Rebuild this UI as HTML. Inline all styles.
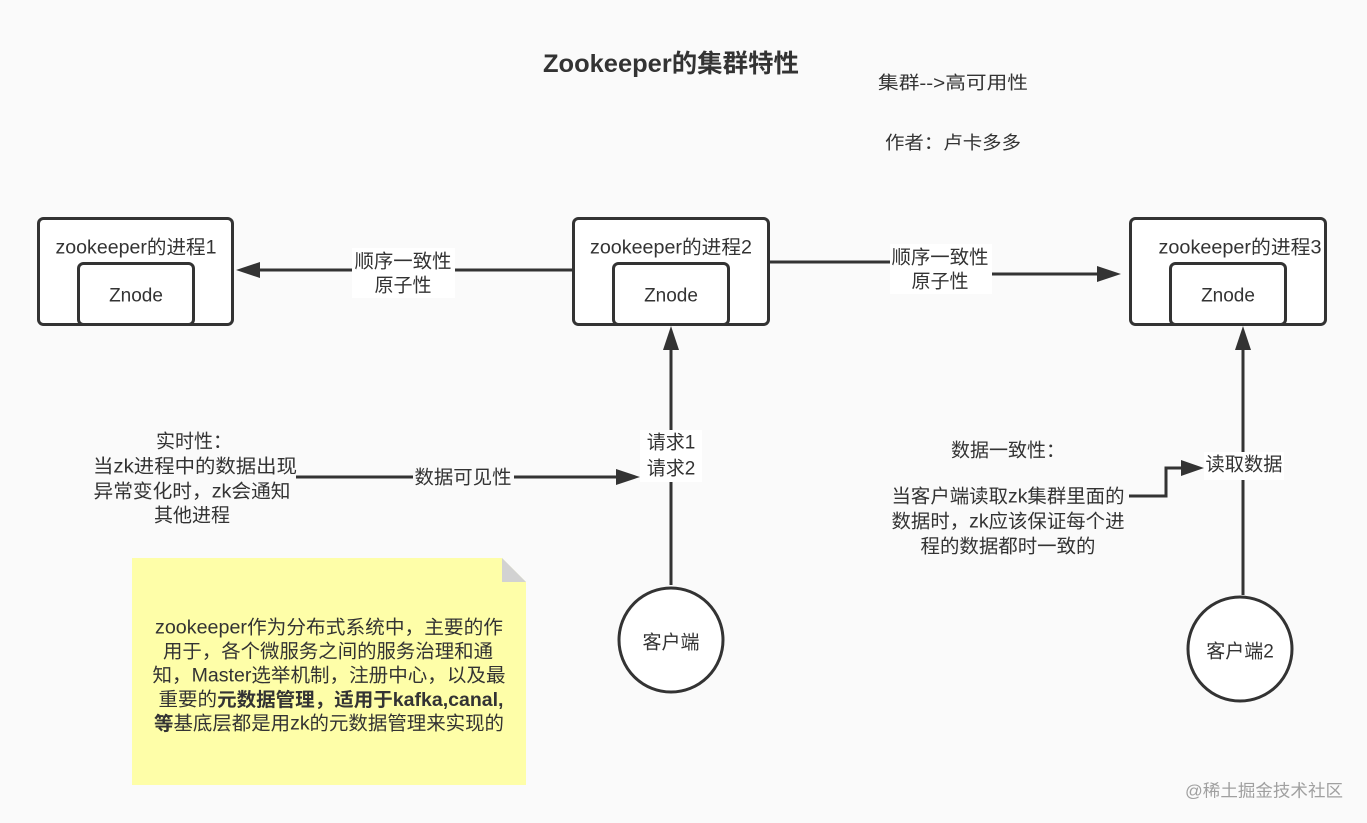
<!DOCTYPE html>
<html>
<head>
<meta charset="utf-8">
<style>
html,body{margin:0;padding:0;background:#fafafa;}
svg{display:block;}
text{font-family:"Liberation Sans","Noto Sans CJK SC",sans-serif;fill:#333;}
</style>
</head>
<body>
<svg width="1367" height="823" viewBox="0 0 1367 823" xmlns="http://www.w3.org/2000/svg">
<rect x="0" y="0" width="1367" height="823" fill="#fafafa"/>

<!-- Title -->
<text x="671" y="64" font-size="25" font-weight="bold" text-anchor="middle" dominant-baseline="central" textLength="256" lengthAdjust="spacingAndGlyphs">Zookeeper的集群特性</text>
<text x="953" y="83" font-size="18" text-anchor="middle" dominant-baseline="central" textLength="150" lengthAdjust="spacingAndGlyphs">集群--&gt;高可用性</text>
<text x="953" y="143" font-size="18" text-anchor="middle" dominant-baseline="central" textLength="136" lengthAdjust="spacingAndGlyphs">作者：卢卡多多</text>

<!-- Connectors -->
<g stroke="#333" stroke-width="3" fill="none">
  <path d="M572,270 H256"/>
  <path d="M762,262 H940 V274 H1100"/>
  <path d="M296,477 H620"/>
  <path d="M671,585 V346"/>
  <path d="M1243,595 V346"/>
  <path d="M1129,496 H1166 V468 H1185"/>
</g>
<g fill="#333">
  <polygon points="236,270 260,262 260,278"/>
  <polygon points="1121,274 1097,266 1097,282"/>
  <polygon points="640,477 616,469 616,485"/>
  <polygon points="671,326 663,350 679,350"/>
  <polygon points="1243,326 1235,350 1251,350"/>
  <polygon points="1204,468 1181,460 1181,476"/>
</g>

<!-- Boxes -->
<g stroke="#333" stroke-width="3" fill="#fff">
  <rect x="38.5" y="218.5" width="194" height="106" rx="5"/>
  <rect x="78.5" y="263.5" width="115" height="61" rx="5"/>
  <rect x="573.5" y="218.5" width="195" height="106" rx="5"/>
  <rect x="613.5" y="263.5" width="115" height="61" rx="5"/>
  <rect x="1130.5" y="218.5" width="195" height="106" rx="5"/>
  <rect x="1170.5" y="263.5" width="115" height="61" rx="5"/>
</g>
<text x="136" y="248" font-size="19" text-anchor="middle" dominant-baseline="central" textLength="161" lengthAdjust="spacingAndGlyphs">zookeeper的进程1</text>
<text x="136" y="296" font-size="19" text-anchor="middle" dominant-baseline="central">Znode</text>
<text x="671" y="248" font-size="19" text-anchor="middle" dominant-baseline="central" textLength="162" lengthAdjust="spacingAndGlyphs">zookeeper的进程2</text>
<text x="671" y="296" font-size="19" text-anchor="middle" dominant-baseline="central">Znode</text>
<text x="1240" y="248" font-size="19" text-anchor="middle" dominant-baseline="central" textLength="163" lengthAdjust="spacingAndGlyphs">zookeeper的进程3</text>
<text x="1228" y="296" font-size="19" text-anchor="middle" dominant-baseline="central">Znode</text>

<!-- Edge labels -->
<rect x="352" y="248" width="103" height="50" fill="#fff"/>
<text x="403" y="262" font-size="19" text-anchor="middle" dominant-baseline="central" textLength="97" lengthAdjust="spacingAndGlyphs">顺序一致性</text>
<text x="403" y="286" font-size="19" text-anchor="middle" dominant-baseline="central">原子性</text>

<rect x="890" y="244" width="102" height="50" fill="#fff"/>
<text x="940" y="258" font-size="19" text-anchor="middle" dominant-baseline="central" textLength="97" lengthAdjust="spacingAndGlyphs">顺序一致性</text>
<text x="940" y="282" font-size="19" text-anchor="middle" dominant-baseline="central">原子性</text>

<rect x="640" y="430" width="62" height="52" fill="#fff"/>
<text x="671" y="443" font-size="19" text-anchor="middle" dominant-baseline="central">请求1</text>
<text x="671" y="469" font-size="19" text-anchor="middle" dominant-baseline="central">请求2</text>

<rect x="413" y="465" width="101" height="26" fill="#fafafa"/>
<text x="463" y="478" font-size="19" text-anchor="middle" dominant-baseline="central" textLength="97" lengthAdjust="spacingAndGlyphs">数据可见性</text>

<rect x="1204" y="452" width="80" height="28" fill="#fff"/>
<text x="1244" y="465" font-size="19" text-anchor="middle" dominant-baseline="central" textLength="77" lengthAdjust="spacingAndGlyphs">读取数据</text>

<!-- Left text block -->
<text x="194" y="442" font-size="19" text-anchor="middle" dominant-baseline="central">实时性：</text>
<text x="195" y="467" font-size="19" text-anchor="middle" dominant-baseline="central" textLength="204" lengthAdjust="spacingAndGlyphs">当zk进程中的数据出现</text>
<text x="192" y="492" font-size="19" text-anchor="middle" dominant-baseline="central" textLength="197" lengthAdjust="spacingAndGlyphs">异常变化时，zk会通知</text>
<text x="192" y="516" font-size="19" text-anchor="middle" dominant-baseline="central">其他进程</text>

<!-- Right text block -->
<text x="1008" y="451" font-size="19" text-anchor="middle" dominant-baseline="central">数据一致性：</text>
<text x="1008" y="497" font-size="19" text-anchor="middle" dominant-baseline="central" textLength="233" lengthAdjust="spacingAndGlyphs">当客户端读取zk集群里面的</text>
<text x="1008" y="522" font-size="19" text-anchor="middle" dominant-baseline="central" textLength="233" lengthAdjust="spacingAndGlyphs">数据时，zk应该保证每个进</text>
<text x="1008" y="547" font-size="19" text-anchor="middle" dominant-baseline="central" textLength="175" lengthAdjust="spacingAndGlyphs">程的数据都时一致的</text>

<!-- Note -->
<polygon points="132,558 502,558 526,582 526,785 132,785" fill="#fefea8"/>
<polygon points="502,558 526,582 502,582" fill="#d2d2d2"/>
<text x="329" y="628" font-size="19" text-anchor="middle" dominant-baseline="central" textLength="348" lengthAdjust="spacingAndGlyphs">zookeeper作为分布式系统中，主要的作</text>
<text x="328" y="652" font-size="19" text-anchor="middle" dominant-baseline="central" textLength="330" lengthAdjust="spacingAndGlyphs">用于，各个微服务之间的服务治理和通</text>
<text x="329" y="676" font-size="19" text-anchor="middle" dominant-baseline="central" textLength="353" lengthAdjust="spacingAndGlyphs">知，Master选举机制，注册中心，以及最</text>
<text x="331" y="700" font-size="19" text-anchor="middle" dominant-baseline="central" textLength="345" lengthAdjust="spacingAndGlyphs">重要的<tspan font-weight="bold">元数据管理，适用于kafka,canal,</tspan></text>
<text x="329" y="724" font-size="19" text-anchor="middle" dominant-baseline="central" textLength="350" lengthAdjust="spacingAndGlyphs"><tspan font-weight="bold">等</tspan>基底层都是用zk的元数据管理来实现的</text>

<!-- Clients -->
<circle cx="671" cy="640" r="52" fill="#fff" stroke="#333" stroke-width="3"/>
<text x="671" y="643" font-size="19" text-anchor="middle" dominant-baseline="central">客户端</text>
<circle cx="1240" cy="649" r="52" fill="#fff" stroke="#333" stroke-width="3"/>
<text x="1240" y="652" font-size="19" text-anchor="middle" dominant-baseline="central">客户端2</text>

<!-- Watermark -->
<text x="1264" y="791" font-size="17" text-anchor="middle" dominant-baseline="central" style="fill:#a0a0a0" textLength="158" lengthAdjust="spacingAndGlyphs">@稀土掘金技术社区</text>
</svg>
</body>
</html>
